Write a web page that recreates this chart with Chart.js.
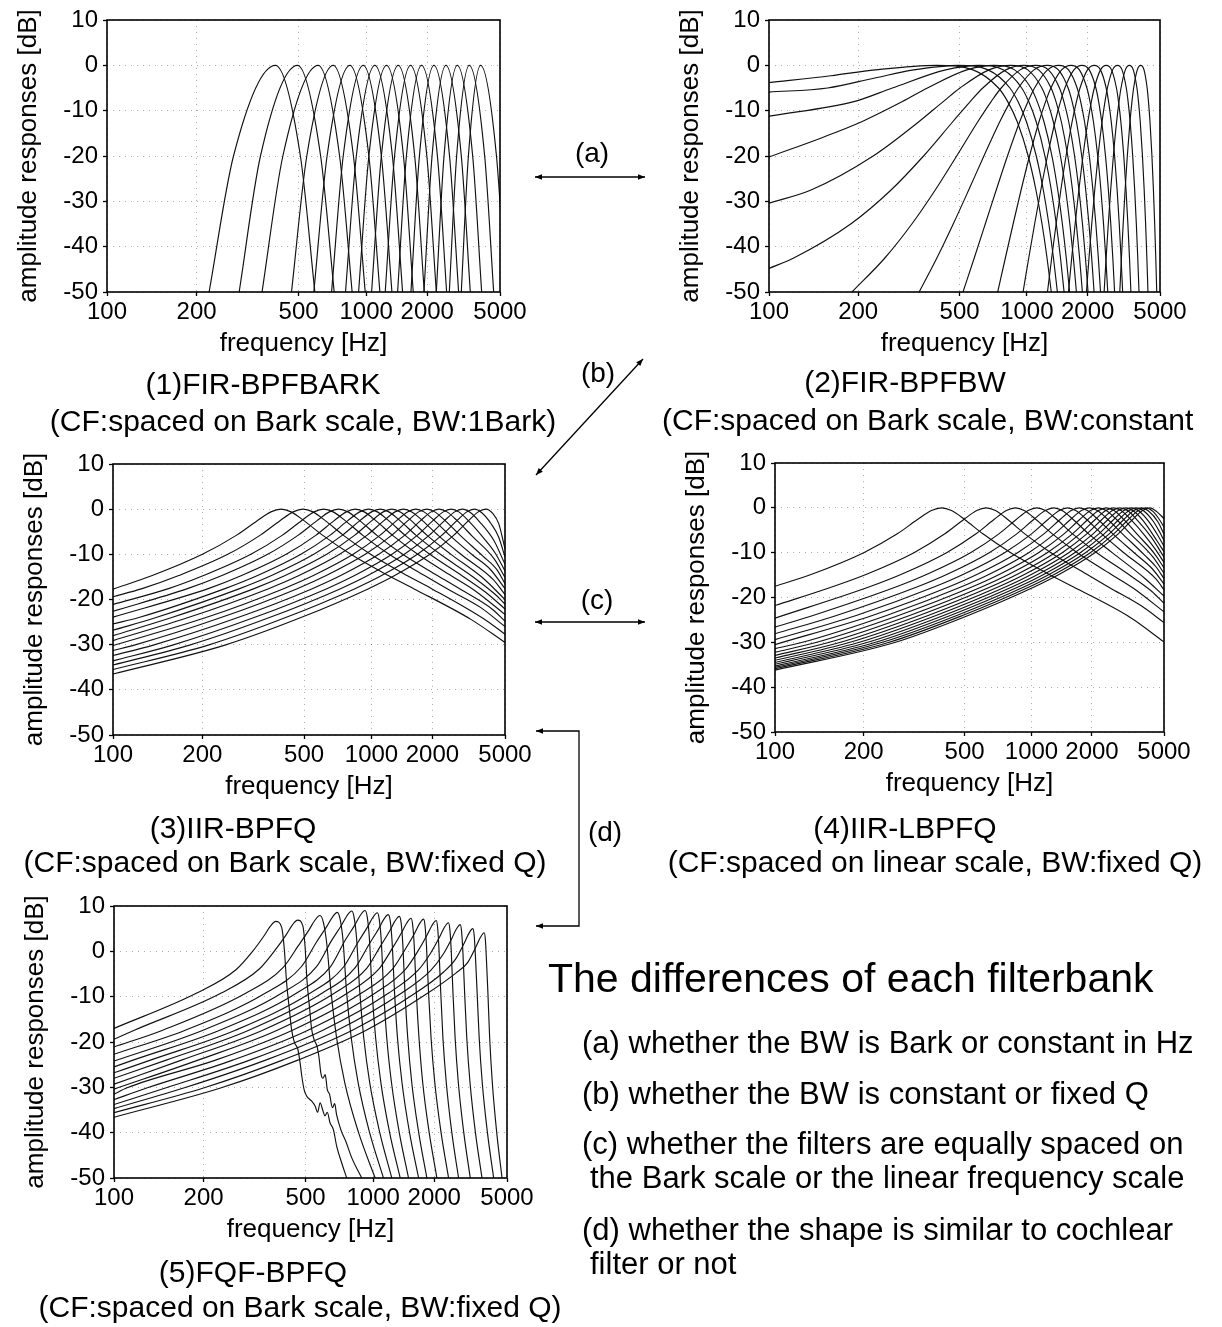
<!DOCTYPE html>
<html><head><meta charset="utf-8">
<script src="https://cdn.jsdelivr.net/npm/chart.js@4.4.0/dist/chart.umd.min.js"></script>
<style>
html,body{margin:0;padding:0;background:#fff;}
body{width:1222px;height:1327px;position:relative;overflow:hidden;font-family:"Liberation Sans",Arial,Helvetica,sans-serif;color:#000;}
.pane{position:absolute;}
.t{position:absolute;white-space:nowrap;line-height:1;}
.c{transform:translateX(-50%);}
svg{position:absolute;left:0;top:0;}
</style></head><body>
<script>
// ---------- data (frequency in Hz, response in dB) ----------
const TICKS_HZ = [100, 200, 500, 1000, 2000, 5000];
const TICKS_DB = [-50, -40, -30, -20, -10, 0, 10];

// (1) FIR-BPFBARK
const P1_CURVES = [
 [[222,-50],[274,-20],[401,0],[509,-20],[587,-50]],
 [[288,-50],[349,-20],[495,0],[622,-20],[714,-50]],
 [[354,-50],[430,-20],[607,0],[755,-20],[861,-50]],
 [[467,-50],[542,-20],[707,0],[873,-20],[990,-50]],
 [[581,-50],[664,-20],[841,0],[1030,-20],[1162,-50]],
 [[695,-50],[784,-20],[969,0],[1181,-20],[1329,-50]],
 [[803,-50],[900,-20],[1100,0],[1336,-20],[1500,-50]],
 [[922,-50],[1030,-20],[1251,0],[1515,-20],[1696,-50]],
 [[1061,-50],[1181,-20],[1427,0],[1725,-20],[1930,-50]],
 [[1233,-50],[1369,-20],[1644,0],[1990,-20],[2229,-50]],
 [[1417,-50],[1567,-20],[1870,0],[2259,-20],[2527,-50]],
 [[1651,-50],[1823,-20],[2166,0],[2619,-20],[2931,-50]],
 [[1923,-50],[2118,-20],[2506,0],[3032,-20],[3396,-50]],
 [[2229,-50],[2448,-20],[2882,0],[3501,-20],[3929,-50]],
 [[2612,-50],[2860,-20],[3352,0],[4086,-20],[4598,-50]],
 [[3031,-50],[3315,-20],[3877,0],[4771,-20],[5395,-50]]
];

// (2) FIR-BPFBW
const P2_CURVES = [
 [[100,-3.8],[160,-2.3],[231,-1],[401,0],[571,-1],[740,-5],[815,-8],[903,-12.5],[1015,-20],[1105,-27.5],[1182,-35],[1250,-42.5],[1311,-50]],
 [[100,-5.9],[156,-5],[230,-2.8],[325,-1],[495,0],[665,-1],[834,-5],[909,-8],[997,-12.5],[1109,-20],[1199,-27.5],[1276,-35],[1344,-42.5],[1405,-50]],
 [[100,-11.2],[193,-8],[268,-5],[437,-1],[607,0],[777,-1],[946,-5],[1021,-8],[1109,-12.5],[1221,-20],[1311,-27.5],[1388,-35],[1456,-42.5],[1517,-50]],
 [[100,-20.2],[150,-15.9],[205,-12.5],[293,-8],[368,-5],[537,-1],[707,0],[877,-1],[1046,-5],[1121,-8],[1209,-12.5],[1321,-20],[1411,-27.5],[1488,-35],[1556,-42.5],[1617,-50]],
 [[100,-30.4],[137,-27.5],[227,-20],[339,-12.5],[427,-8],[502,-5],[671,-1],[841,0],[1011,-1],[1180,-5],[1255,-8],[1343,-12.5],[1455,-20],[1545,-27.5],[1622,-35],[1690,-42.5],[1751,-50]],
 [[100,-44.8],[120,-42.5],[188,-35],[265,-27.5],[355,-20],[467,-12.5],[555,-8],[630,-5],[799,-1],[969,0],[1139,-1],[1308,-5],[1383,-8],[1471,-12.5],[1583,-20],[1673,-27.5],[1750,-35],[1818,-42.5],[1879,-50]],
 [[190,-50],[251,-42.5],[319,-35],[396,-27.5],[486,-20],[598,-12.5],[686,-8],[761,-5],[930,-1],[1100,0],[1270,-1],[1439,-5],[1514,-8],[1602,-12.5],[1714,-20],[1804,-27.5],[1881,-35],[1949,-42.5],[2010,-50]],
 [[341,-50],[402,-42.5],[470,-35],[547,-27.5],[637,-20],[749,-12.5],[837,-8],[912,-5],[1081,-1],[1251,0],[1421,-1],[1590,-5],[1665,-8],[1753,-12.5],[1865,-20],[1955,-27.5],[2032,-35],[2100,-42.5],[2161,-50]],
 [[517,-50],[578,-42.5],[646,-35],[723,-27.5],[813,-20],[925,-12.5],[1013,-8],[1088,-5],[1257,-1],[1427,0],[1597,-1],[1766,-5],[1841,-8],[1929,-12.5],[2041,-20],[2131,-27.5],[2208,-35],[2276,-42.5],[2337,-50]],
 [[734,-50],[795,-42.5],[863,-35],[940,-27.5],[1030,-20],[1142,-12.5],[1230,-8],[1305,-5],[1474,-1],[1644,0],[1814,-1],[1983,-5],[2058,-8],[2146,-12.5],[2258,-20],[2348,-27.5],[2425,-35],[2493,-42.5],[2554,-50]],
 [[960,-50],[1021,-42.5],[1089,-35],[1166,-27.5],[1256,-20],[1368,-12.5],[1456,-8],[1531,-5],[1700,-1],[1870,0],[2040,-1],[2209,-5],[2284,-8],[2372,-12.5],[2484,-20],[2574,-27.5],[2651,-35],[2719,-42.5],[2780,-50]],
 [[1256,-50],[1317,-42.5],[1385,-35],[1462,-27.5],[1552,-20],[1664,-12.5],[1752,-8],[1827,-5],[1996,-1],[2166,0],[2336,-1],[2505,-5],[2580,-8],[2668,-12.5],[2780,-20],[2870,-27.5],[2947,-35],[3015,-42.5],[3076,-50]],
 [[1596,-50],[1657,-42.5],[1725,-35],[1802,-27.5],[1892,-20],[2004,-12.5],[2092,-8],[2167,-5],[2336,-1],[2506,0],[2676,-1],[2845,-5],[2920,-8],[3008,-12.5],[3120,-20],[3210,-27.5],[3287,-35],[3355,-42.5],[3416,-50]],
 [[1972,-50],[2033,-42.5],[2101,-35],[2178,-27.5],[2268,-20],[2380,-12.5],[2468,-8],[2543,-5],[2712,-1],[2882,0],[3052,-1],[3221,-5],[3296,-8],[3384,-12.5],[3496,-20],[3586,-27.5],[3663,-35],[3731,-42.5],[3792,-50]],
 [[2442,-50],[2503,-42.5],[2571,-35],[2648,-27.5],[2738,-20],[2850,-12.5],[2938,-8],[3013,-5],[3182,-1],[3352,0],[3522,-1],[3691,-5],[3766,-8],[3854,-12.5],[3966,-20],[4056,-27.5],[4133,-35],[4201,-42.5],[4262,-50]],
 [[2967,-50],[3028,-42.5],[3096,-35],[3173,-27.5],[3263,-20],[3375,-12.5],[3463,-8],[3538,-5],[3707,-1],[3877,0],[4047,-1],[4216,-5],[4291,-8],[4379,-12.5],[4491,-20],[4581,-27.5],[4658,-35],[4726,-42.5],[4787,-50]]
];

// (3) IIR-BPFQ
const P3_CURVES = [
 [[100,-17.7],[134,-14.7],[200,-10],[267,-5.8],[321,-2.6],[365,-0.6],[401,0],[441,-0.6],[501,-2.6],[602,-5.8],[802,-10],[1203,-14.7],[1604,-17.6],[3208,-24.4],[5000,-29.5]],
 [[100,-19.4],[124,-17.6],[165,-14.7],[248,-10],[330,-5.8],[396,-2.6],[450,-0.6],[495,0],[545,-0.6],[619,-2.6],[743,-5.8],[990,-10],[1485,-14.7],[1980,-17.6],[3960,-24.8],[5000,-27.7]],
 [[100,-21.1],[152,-17.6],[202,-14.7],[304,-10],[405,-5.8],[486,-2.6],[552,-0.6],[607,0],[668,-0.6],[759,-2.6],[911,-5.8],[1214,-10],[1821,-14.7],[2428,-17.8],[3642,-21.8],[5000,-26.0]],
 [[100,-22.6],[177,-17.6],[236,-14.7],[354,-10],[471,-5.8],[566,-2.6],[643,-0.6],[707,0],[778,-0.6],[884,-2.6],[1061,-5.8],[1414,-10],[2121,-14.7],[2828,-17.8],[4242,-22.2],[5000,-24.8]],
 [[100,-23.9],[210,-17.6],[280,-14.7],[421,-10],[561,-5.8],[673,-2.6],[765,-0.6],[841,0],[925,-0.6],[1051,-2.6],[1262,-5.8],[1682,-10],[2523,-14.8],[3364,-18.0],[5000,-23.3]],
 [[100,-25.4],[121,-24.0],[242,-17.6],[323,-14.7],[485,-10],[646,-5.8],[775,-2.6],[881,-0.6],[969,0],[1066,-0.6],[1211,-2.6],[1454,-5.8],[1938,-10],[2907,-14.9],[3876,-18.4],[5000,-22.1]],
 [[100,-26.8],[138,-24.0],[275,-17.6],[367,-14.7],[550,-10],[733,-5.8],[880,-2.6],[1000,-0.6],[1100,0],[1210,-0.6],[1375,-2.6],[1650,-5.8],[2200,-10],[3300,-15.0],[4400,-18.9],[5000,-21.0]],
 [[100,-28.0],[156,-24.0],[313,-17.6],[417,-14.7],[626,-10],[834,-5.8],[1001,-2.6],[1137,-0.6],[1251,0],[1376,-0.6],[1564,-2.6],[1877,-5.8],[2502,-10],[3753,-15.3],[5000,-20.0]],
 [[100,-29.1],[178,-24.0],[357,-17.6],[476,-14.7],[714,-10],[951,-5.8],[1142,-2.6],[1297,-0.6],[1427,0],[1570,-0.6],[1784,-2.6],[2141,-5.8],[2854,-10.1],[4281,-15.6],[5000,-18.9]],
 [[100,-30.2],[206,-24.0],[411,-17.6],[548,-14.7],[822,-10],[1096,-5.8],[1315,-2.6],[1495,-0.6],[1644,0],[1808,-0.6],[2055,-2.6],[2466,-5.8],[3288,-10.2],[4110,-13.3],[5000,-17.6]],
 [[100,-31.3],[117,-30.1],[234,-24.0],[468,-17.6],[623,-14.7],[935,-10],[1247,-5.8],[1496,-2.6],[1700,-0.6],[1870,0],[2057,-0.6],[2338,-2.6],[2805,-5.8],[3740,-10.4],[4488,-13.4],[5000,-16.5]],
 [[100,-32.4],[135,-30.1],[271,-24.0],[542,-17.6],[722,-14.7],[1083,-10],[1444,-5.8],[1733,-2.6],[1969,-0.6],[2166,0],[2383,-0.6],[2708,-2.6],[3249,-5.9],[4332,-11.0],[5000,-15.1]],
 [[100,-33.6],[157,-30.1],[313,-24.0],[627,-17.6],[835,-14.7],[1253,-10],[1671,-5.8],[2005,-2.6],[2278,-0.6],[2506,0],[2757,-0.6],[3133,-2.7],[3759,-6.3],[4386,-9.7],[5000,-13.7]],
 [[100,-34.5],[180,-30.1],[360,-24.0],[721,-17.6],[961,-14.7],[1441,-10],[1921,-5.8],[2306,-2.6],[2620,-0.6],[2882,0],[3170,-0.7],[3603,-2.9],[4323,-7.0],[5000,-12.2]],
 [[100,-35.5],[210,-30.1],[419,-24.0],[838,-17.6],[1117,-14.7],[1676,-10],[2235,-5.8],[2682,-2.6],[3047,-0.6],[3352,0],[3687,-0.8],[4190,-3.4],[4600,-6.2],[5000,-10.6]],
 [[100,-36.5],[242,-30.1],[485,-24.0],[969,-17.6],[1292,-14.7],[1939,-10],[2585,-5.8],[3102,-2.6],[3525,-0.6],[3877,0],[4265,-1.0],[4600,-3.2],[5000,-8.8]]
];

// (4) IIR-LBPFQ
const P4_CURVES = [
 [[100,-17.5],[133,-14.7],[200,-10],[267,-5.8],[320,-2.6],[364,-0.6],[400,0],[440,-0.6],[500,-2.6],[600,-5.8],[800,-10],[1200,-14.7],[1600,-17.6],[3200,-24.4],[5000,-29.9]],
 [[100,-21.8],[155,-17.6],[207,-14.7],[310,-10],[413,-5.8],[496,-2.6],[564,-0.6],[620,0],[682,-0.6],[775,-2.6],[930,-5.8],[1240,-10],[1860,-14.7],[2480,-17.8],[3720,-21.9],[5000,-25.6]],
 [[100,-24.6],[210,-17.6],[280,-14.7],[420,-10],[560,-5.8],[672,-2.6],[764,-0.6],[840,0],[924,-0.6],[1050,-2.6],[1260,-5.8],[1680,-10],[2520,-14.8],[3360,-18.0],[5000,-23.2]],
 [[100,-26.6],[133,-24.0],[265,-17.6],[353,-14.7],[530,-10],[707,-5.8],[848,-2.6],[964,-0.6],[1060,0],[1166,-0.6],[1325,-2.6],[1590,-5.8],[2120,-10],[3180,-15.0],[4240,-18.6],[5000,-21.3]],
 [[100,-28.1],[160,-24.0],[320,-17.6],[427,-14.7],[640,-10],[853,-5.8],[1024,-2.6],[1164,-0.6],[1280,0],[1408,-0.6],[1600,-2.6],[1920,-5.8],[2560,-10],[3840,-15.6],[5000,-19.7]],
 [[100,-29.4],[188,-24.0],[375,-17.6],[500,-14.7],[750,-10],[1000,-5.8],[1200,-2.6],[1364,-0.6],[1500,0],[1650,-0.6],[1875,-2.6],[2250,-5.8],[3000,-10.2],[4500,-15.9],[5000,-18.3]],
 [[100,-30.5],[215,-24.0],[430,-17.6],[573,-14.7],[860,-10],[1147,-5.8],[1376,-2.6],[1564,-0.6],[1720,0],[1892,-0.6],[2150,-2.6],[2580,-5.8],[3440,-10.3],[4300,-13.7],[5000,-17.0]],
 [[100,-31.4],[121,-30.1],[243,-24.0],[485,-17.6],[647,-14.7],[970,-10],[1293,-5.8],[1552,-2.6],[1764,-0.6],[1940,0],[2134,-0.6],[2425,-2.6],[2910,-5.8],[3880,-10.6],[4500,-13.2],[5000,-15.8]],
 [[100,-32.2],[135,-30.1],[270,-24.0],[540,-17.6],[720,-14.7],[1080,-10],[1440,-5.8],[1728,-2.6],[1964,-0.6],[2160,0],[2376,-0.6],[2700,-2.6],[3240,-5.9],[4320,-11.0],[5000,-14.6]],
 [[100,-32.9],[149,-30.1],[298,-24.0],[595,-17.6],[793,-14.7],[1190,-10],[1587,-5.8],[1904,-2.6],[2164,-0.6],[2380,0],[2618,-0.6],[2975,-2.7],[3570,-6.2],[4400,-10.2],[5000,-13.4]],
 [[100,-33.5],[163,-30.1],[325,-24.0],[650,-17.6],[867,-14.7],[1300,-10],[1733,-5.8],[2080,-2.6],[2364,-0.6],[2600,0],[2860,-0.6],[3250,-2.7],[3900,-6.3],[4500,-9.5],[5000,-12.2]],
 [[100,-34.0],[176,-30.1],[353,-24.0],[705,-17.6],[940,-14.7],[1410,-10],[1880,-5.8],[2256,-2.6],[2564,-0.6],[2820,0],[3102,-0.6],[3525,-2.8],[4230,-6.6],[5000,-11.0]],
 [[100,-34.5],[190,-30.1],[380,-24.0],[760,-17.6],[1013,-14.7],[1520,-10],[2027,-5.8],[2432,-2.6],[2764,-0.6],[3040,0],[3344,-0.7],[3800,-2.9],[4560,-7.4],[5000,-9.8]],
 [[100,-34.9],[204,-30.1],[408,-24.0],[815,-17.6],[1087,-14.7],[1630,-10],[2173,-5.8],[2608,-2.6],[2964,-0.6],[3260,0],[3586,-0.7],[4075,-3.0],[4600,-6.1],[5000,-8.6]],
 [[100,-35.3],[218,-30.1],[435,-24.0],[870,-17.6],[1160,-14.7],[1740,-10],[2320,-5.8],[2784,-2.6],[3164,-0.6],[3480,0],[3828,-0.7],[4350,-3.1],[4700,-5.3],[5000,-7.3]],
 [[100,-35.6],[231,-30.1],[463,-24.0],[925,-17.6],[1233,-14.7],[1850,-10],[2467,-5.8],[2960,-2.6],[3364,-0.6],[3700,0],[4070,-0.7],[4625,-3.2],[5000,-5.9]],
 [[100,-35.9],[245,-30.1],[490,-24.0],[980,-17.6],[1307,-14.7],[1960,-10],[2613,-5.8],[3136,-2.6],[3564,-0.6],[3920,0],[4312,-0.8],[4700,-2.6],[5000,-4.3]],
 [[100,-36.2],[259,-30.1],[518,-24.0],[1035,-17.6],[1380,-14.7],[2070,-10],[2760,-5.8],[3312,-2.6],[3764,-0.6],[4140,0],[4554,-0.9],[5000,-2.4]]
];

// (5) FQF-BPFQ
const P5_CURVES = [
 [[100,-17.0],[189,-9.2],[264,-4.0],[305,0.0],[339,3.5],[358,5.5],[377,6.6],[398,5.3],[408,0.5],[417,-6.9],[428,-12.8],[437,-17.2],[449,-20.1],[464,-21.6],[474,-24.5],[482,-27.5],[493,-30.5],[505,-31.9],[530,-33.0],[549,-34.1],[563,-35.5],[577,-33.4],[592,-35.0],[606,-36.3],[620,-35.5],[637,-37.8],[659,-39.3],[682,-43.0],[718,-46.7],[756,-50]],
 [[100,-19.4],[116,-17.4],[232,-9.2],[324,-3.9],[375,0.3],[417,3.8],[440,5.8],[463,6.9],[487,5.6],[498,0.8],[507,-6.5],[520,-12.5],[530,-17.0],[544,-19.5],[560,-21.0],[571,-23.5],[581,-26.8],[593,-28.0],[607,-27.2],[620,-30.5],[634,-31.5],[653,-34.5],[668,-33.6],[681,-36.0],[713,-39.5],[750,-42.0],[796,-45.5],[885,-50]],
 [[100,-21.1],[144,-17.4],[288,-9.2],[403,-3.6],[467,1.3],[518,4.8],[547,6.8],[576,7.9],[596,6.4],[616,1.9],[644,-9],[681,-19],[741,-29],[856,-40],[1022,-50]],
 [[100,-22.7],[172,-17.4],[343,-9.2],[480,-3.4],[556,2.0],[617,5.5],[652,7.5],[686,8.6],[706,7.1],[727,2.6],[755,-9],[792,-19],[852,-29],[963,-40],[1119,-50]],
 [[100,-24.2],[199,-17.4],[399,-9.2],[558,-3.3],[646,2.3],[717,5.8],[757,7.8],[797,8.9],[817,7.4],[838,2.9],[867,-9],[904,-19],[964,-29],[1075,-40],[1227,-50]],
 [[100,-25.5],[115,-24.0],[229,-17.4],[459,-9.2],[642,-3.3],[743,2.4],[825,5.9],[871,7.9],[917,9.0],[939,7.5],[960,3.0],[989,-9],[1027,-19],[1088,-29],[1198,-40],[1348,-50]],
 [[100,-26.8],[131,-24.0],[262,-17.4],[524,-9.2],[733,-3.4],[848,1.9],[942,5.4],[995,7.4],[1047,8.5],[1069,7.0],[1092,2.5],[1122,-9],[1160,-19],[1223,-29],[1334,-40],[1482,-50]],
 [[100,-28.0],[148,-24.0],[295,-17.4],[590,-9.2],[826,-3.6],[956,1.5],[1062,5.0],[1121,7.0],[1180,8.1],[1207,6.6],[1231,2.1],[1265,-9],[1307,-19],[1376,-29],[1499,-40],[1664,-50]],
 [[100,-29.3],[167,-24.0],[334,-17.4],[668,-9.2],[935,-3.7],[1081,1.1],[1202,4.6],[1268,6.6],[1335,7.7],[1363,6.2],[1388,1.7],[1423,-9],[1468,-19],[1538,-29],[1666,-40],[1833,-50]],
 [[100,-30.4],[191,-24.0],[382,-17.4],[763,-9.2],[1068,-3.8],[1236,0.7],[1373,4.2],[1450,6.2],[1526,7.3],[1554,5.8],[1582,1.3],[1620,-9],[1671,-19],[1746,-29],[1884,-40],[2064,-50]],
 [[100,-31.5],[110,-30.1],[221,-24.0],[441,-17.4],[883,-9.2],[1236,-3.9],[1430,0.5],[1589,4.0],[1677,6.0],[1765,7.1],[1794,5.6],[1825,1.1],[1869,-9],[1925,-19],[2013,-29],[2170,-40],[2376,-50]],
 [[100,-32.7],[128,-30.1],[256,-24.0],[512,-17.4],[1024,-9.2],[1434,-3.9],[1659,0.2],[1843,3.7],[1946,5.7],[2048,6.8],[2081,5.3],[2114,0.8],[2161,-9],[2218,-19],[2311,-29],[2472,-40],[2686,-50]],
 [[100,-33.8],[148,-30.1],[297,-24.0],[593,-17.4],[1186,-9.2],[1660,-4.1],[1921,-0.3],[2135,3.2],[2253,5.2],[2372,6.3],[2414,4.8],[2453,0.3],[2506,-9],[2573,-19],[2678,-29],[2865,-40],[3107,-50]],
 [[100,-34.7],[171,-30.1],[343,-24.0],[686,-17.4],[1371,-9.2],[1919,-4.2],[2221,-0.7],[2468,2.8],[2605,4.8],[2742,5.9],[2787,4.4],[2833,-0.1],[2894,-9],[2973,-19],[3098,-29],[3317,-40],[3606,-50]],
 [[100,-35.6],[201,-30.1],[401,-24.0],[802,-17.4],[1605,-9.2],[2246,-4.5],[2599,-1.6],[2888,1.9],[3049,3.9],[3209,5.0],[3265,3.5],[3316,-1.0],[3388,-9],[3478,-19],[3618,-29],[3868,-40],[4193,-50]],
 [[100,-36.6],[232,-30.1],[464,-24.0],[928,-17.4],[1855,-9.2],[2597,-4.8],[3005,-2.5],[3339,1.0],[3525,3.0],[3710,4.1],[3765,2.6],[3819,-1.9],[3890,-9],[3980,-19],[4121,-29],[4365,-40],[4681,-50]]
];

const ALL_CURVES = [P1_CURVES, P2_CURVES, P3_CURVES, P4_CURVES, P5_CURVES];
// plot-area boxes [left, top, right, bottom] in page pixels
const PANEL_BOXES = [[107,20,500,292],[769,20,1160,292],[113,464,505,735],[775,463,1164,732],[114,906,507,1178]];
</script>

<svg width="1222" height="1327" viewBox="0 0 1222 1327">
 <defs>
  <marker id="ah" viewBox="0 0 10 10" refX="10" refY="5" markerWidth="11" markerHeight="7" markerUnits="userSpaceOnUse" orient="auto-start-reverse">
   <path d="M0,1 L10,5 L0,9 z" fill="#000"/>
  </marker>
 </defs>
 <g stroke="#000" stroke-width="1.3" fill="none">
  <line x1="535" y1="177" x2="645" y2="177" marker-start="url(#ah)" marker-end="url(#ah)"/>
  <line x1="536" y1="475" x2="643" y2="359" marker-start="url(#ah)" marker-end="url(#ah)"/>
  <line x1="535" y1="622" x2="645" y2="622" marker-start="url(#ah)" marker-end="url(#ah)"/>
  <polyline points="536,731 579,731 579,926 536,926" marker-start="url(#ah)" marker-end="url(#ah)"/>
 </g>
</svg>

<div class="t c" style="left:592px;top:139px;font-size:28px;">(a)</div>
<div class="t c" style="left:598px;top:359px;font-size:28px;">(b)</div>
<div class="t c" style="left:597px;top:586px;font-size:28px;">(c)</div>
<div class="t c" style="left:605px;top:818px;font-size:28px;">(d)</div>

<div class="t c" style="left:263px;top:369px;font-size:30px;">(1)FIR-BPFBARK</div>
<div class="t c" style="left:303px;top:406px;font-size:30px;">(CF:spaced on Bark scale, BW:1Bark)</div>
<div class="t c" style="left:905px;top:367px;font-size:30px;">(2)FIR-BPFBW</div>
<div class="t" style="left:662px;top:405px;font-size:30px;">(CF:spaced on Bark scale, BW:constant</div>
<div class="t c" style="left:233px;top:813px;font-size:30px;">(3)IIR-BPFQ</div>
<div class="t c" style="left:285px;top:847px;font-size:30px;">(CF:spaced on Bark scale, BW:fixed Q)</div>
<div class="t c" style="left:905px;top:813px;font-size:30px;">(4)IIR-LBPFQ</div>
<div class="t c" style="left:935px;top:847px;font-size:30px;">(CF:spaced on linear scale, BW:fixed Q)</div>
<div class="t c" style="left:253px;top:1257px;font-size:30px;">(5)FQF-BPFQ</div>
<div class="t c" style="left:300px;top:1292px;font-size:30px;">(CF:spaced on Bark scale, BW:fixed Q)</div>

<div class="t" style="left:548px;top:958px;font-size:41px;">The differences of each filterbank</div>
<div class="t" style="left:582px;top:1027px;font-size:31px;">(a) whether the BW is Bark or constant in Hz</div>
<div class="t" style="left:582px;top:1078px;font-size:31px;">(b) whether the BW is constant or fixed Q</div>
<div class="t" style="left:582px;top:1128px;font-size:31px;">(c) whether the filters are equally spaced on</div>
<div class="t" style="left:590px;top:1162px;font-size:31px;">the Bark scale or the linear frequency scale</div>
<div class="t" style="left:582px;top:1214px;font-size:31px;">(d) whether the shape is similar to cochlear</div>
<div class="t" style="left:590px;top:1248px;font-size:31px;">filter or not</div>

<script>
Chart.defaults.font.family = '"Liberation Sans", Arial, Helvetica, sans-serif';
Chart.defaults.color = '#000';

// x axis of the original: position proportional to log(log f)
const LogScale = Chart.LogarithmicScale || Chart.registry.getScale('logarithmic');
class LogLogScale extends LogScale {
  _ll(v) { return Math.log(Math.log(v)); }
  getPixelForValue(value) {
    const a = this._ll(this.min), b = this._ll(this.max);
    return this.getPixelForDecimal((this._ll(value) - a) / (b - a));
  }
  getValueForPixel(pixel) {
    const a = this._ll(this.min), b = this._ll(this.max);
    return Math.exp(Math.exp(a + this.getDecimalForPixel(pixel) * (b - a)));
  }
}
LogLogScale.id = 'loglog';
LogLogScale.defaults = {};
Chart.register(LogLogScale);

const framePlugin = {
  id: 'frame',
  afterDraw(chart) {
    const {ctx, chartArea: a} = chart;
    ctx.save();
    ctx.strokeStyle = '#000';
    ctx.lineWidth = 1.6;
    ctx.strokeRect(a.left, a.top, a.right - a.left, a.bottom - a.top);
    ctx.restore();
  }
};

const YW = 100, PT = 20, PR = 44, XH = 75;
const TICK_FONT = {size: 24};
const TITLE_FONT = {size: 26};

ALL_CURVES.forEach((curves, i) => {
  const [l, t, r, b] = PANEL_BOXES[i];
  const W = (r - l) + YW + PR, H = (b - t) + PT + XH;
  const div = document.createElement('div');
  div.className = 'pane';
  div.style.left = (l - YW) + 'px';
  div.style.top = (t - PT) + 'px';
  div.style.width = W + 'px';
  div.style.height = H + 'px';
  const cv = document.createElement('canvas');
  cv.width = W; cv.height = H;
  cv.style.width = W + 'px'; cv.style.height = H + 'px';
  div.appendChild(cv);
  document.body.insertBefore(div, document.body.firstChild);

  new Chart(cv, {
    type: 'line',
    data: {
      datasets: curves.map(c => ({
        data: c.map(([x, y]) => ({x, y})),
        borderColor: '#111',
        borderWidth: 1.15,
        pointRadius: 0,
        fill: false,
        cubicInterpolationMode: 'monotone'
      }))
    },
    options: {
      responsive: false,
      animation: false,
      devicePixelRatio: 1,
      events: [],
      layout: {padding: {left: 0, top: PT, right: PR, bottom: 0}},
      plugins: {legend: {display: false}, tooltip: {enabled: false}},
      scales: {
        x: {
          type: 'loglog',
          min: 100, max: 5000,
          afterBuildTicks: s => { s.ticks = TICKS_HZ.map(v => ({value: v})); },
          afterFit: s => { s.height = XH; },
          ticks: {autoSkip: false, maxRotation: 0, minRotation: 0, padding: 2, font: TICK_FONT, callback: v => String(v)},
          grid: {color: 'rgba(0,0,0,0.32)', lineWidth: 1, tickLength: 4, tickColor: '#000', tickWidth: 1.3},
          border: {display: false, dash: [1, 5]},
          title: {display: true, text: 'frequency [Hz]', font: TITLE_FONT, padding: {top: 0, bottom: 8}}
        },
        y: {
          type: 'linear',
          min: -50, max: 10,
          afterBuildTicks: s => { s.ticks = TICKS_DB.map(v => ({value: v})); },
          afterFit: s => { s.width = YW; },
          ticks: {padding: 5, font: TICK_FONT, callback: v => String(v)},
          grid: {color: 'rgba(0,0,0,0.32)', lineWidth: 1, tickLength: 4, tickColor: '#000', tickWidth: 1.3},
          border: {display: false, dash: [1, 5]},
          title: {display: true, text: 'amplitude responses [dB]', font: TITLE_FONT, padding: {top: 6, bottom: 0}}
        }
      }
    },
    plugins: [framePlugin]
  });
});
</script>
</body></html>
